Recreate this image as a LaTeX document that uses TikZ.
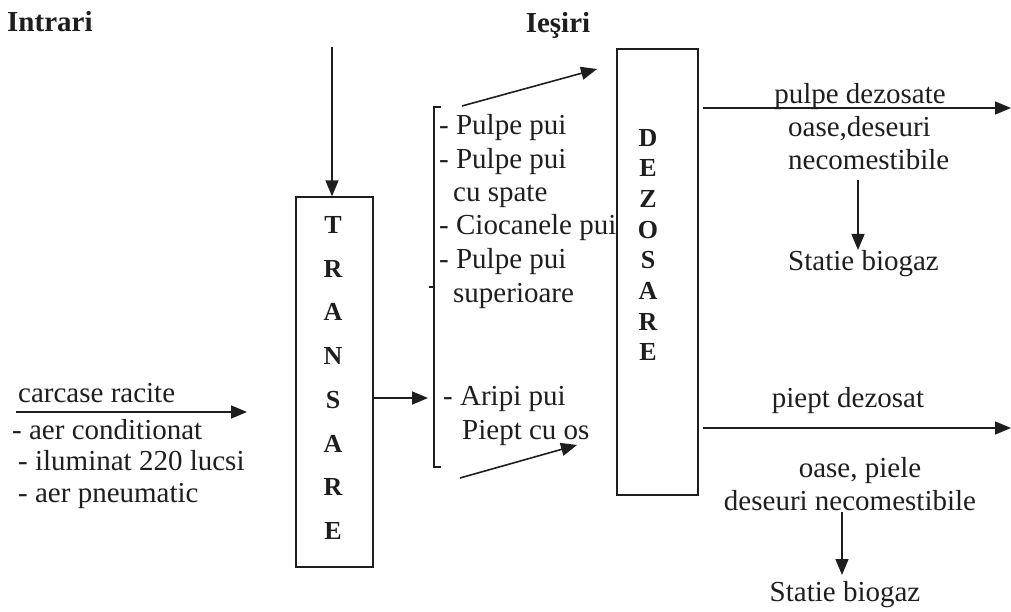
\documentclass[tikz,border=0pt]{standalone}
\usepackage{fontspec}
\setmainfont{Liberation Serif}
\usetikzlibrary{arrows.meta}
\definecolor{ink}{HTML}{1E1E1E}
\begin{document}
\begin{tikzpicture}[x=1pt,y=-1pt,
  txt/.style={inner sep=0pt, text=ink, font=\fontsize{29}{33}\selectfont, text height=20pt, text depth=6pt},
  hdr/.style={txt, font=\fontsize{29}{33}\selectfont\bfseries},
  letters/.style={inner sep=0pt, text=ink, align=center, font=\fontsize{26}{#1}\selectfont\bfseries},
  procbox/.style={draw=ink, line width=1.3pt, inner sep=0pt},
  arr/.style={draw=ink, line width=1.6pt, -{Triangle[length=16pt,width=13pt]}},
  brk/.style={draw=ink, line width=1.4pt}]
\useasboundingbox (0,0) rectangle (1011,612);

% headers
\node[hdr, anchor=west] (intrari) at (7,25) {Intrari};
\node[hdr] (iesiri) at (558,26) {Ieşiri};

% process boxes
\node[procbox, minimum width=77pt, minimum height=370pt] (trans) at (334.5,382) {};
\node[letters=43.7pt] (translbl) at (333,378) {T\\R\\A\\N\\S\\A\\R\\E};
\node[procbox, minimum width=81pt, minimum height=446pt] (dezo) at (657.5,272) {};
\node[letters=30.7pt] (dezolbl) at (648,245) {D\\E\\Z\\O\\S\\A\\R\\E};

% top input arrow
\coordinate (topin) at (332,47);
\draw[arr] (topin) -- (topin |- trans.north);

% inputs
\coordinate (inA) at (16,412);
\coordinate (inB) at (247,412);
\draw[arr] (inA) -- (inB);
\node[txt, anchor=west] (carc) at (18,395) {carcase racite};
\node[txt, anchor=west] (aerc) at (12,432) {- aer conditionat};
\node[txt, anchor=west] (ilum) at (18,463) {- iluminat 220 lucsi};
\node[txt, anchor=west] (aerp) at (18,495) {- aer pneumatic};

% bracket with outputs of TRANSARE
\coordinate (bt) at (434,107);
\coordinate (bb) at (434,467);
\coordinate (bm) at (434,287);
\draw[brk] ([xshift=7pt]bt) -- (bt) -- (bb) -- ([xshift=7pt]bb);
\draw[brk] (bm) -- ([xshift=-5pt]bm);
\coordinate (tarr) at (428,398);
\draw[arr] (trans.east |- tarr) -- (tarr);

\node[txt, anchor=west] (l1) at (439,128) {- Pulpe pui};
\node[txt, anchor=west] (l2) at (439,162) {- Pulpe pui};
\node[txt, anchor=west] (l3) at (453,195) {cu spate};
\node[txt, anchor=west] (l4) at (439,228) {- Ciocanele pui};
\node[txt, anchor=west] (l5) at (439,262) {- Pulpe pui};
\node[txt, anchor=west] (l6) at (453,295) {superioare};
\node[txt, anchor=west] (l7) at (443,398) {- Aripi pui};
\node[txt, anchor=west] (l8) at (462,432) {Piept cu os};

% diagonal arrows towards DEZOSARE
\coordinate (d1a) at (462,106);
\coordinate (d1b) at (597,69);
\draw[arr] (d1a) -- (d1b);
\coordinate (d2a) at (460,478);
\coordinate (d2b) at (577,445);
\draw[arr] (d2a) -- (d2b);

% outputs upper
\coordinate (o1) at (1011,108);
\draw[arr] ([xshift=4pt]dezo.east |- o1) -- (o1);
\node[txt] (pd) at (860,97) {pulpe dezosate};
\node[txt, anchor=west] (od1) at (788,130) {oase,deseuri};
\node[txt, anchor=west] (nc1) at (788,163) {necomestibile};
\node[txt, anchor=west] (sb1) at (788,263) {Statie biogaz};
\coordinate (u1a) at (858,180);
\coordinate (u1b) at (858,250);
\draw[arr] (u1a) -- (u1b);

% outputs lower
\coordinate (o2) at (1011,428);
\draw[arr] ([xshift=4pt]dezo.east |- o2) -- (o2);
\node[txt] (ptd) at (848,400) {piept dezosat};
\node[txt] (op) at (860,470) {oase, piele};
\node[txt] (dn) at (850,503) {deseuri necomestibile};
\node[txt] (sb2) at (845,594) {Statie biogaz};
\coordinate (u2a) at (842,512);
\coordinate (u2b) at (842,575);
\draw[arr] (u2a) -- (u2b);
\end{tikzpicture}
\end{document}
